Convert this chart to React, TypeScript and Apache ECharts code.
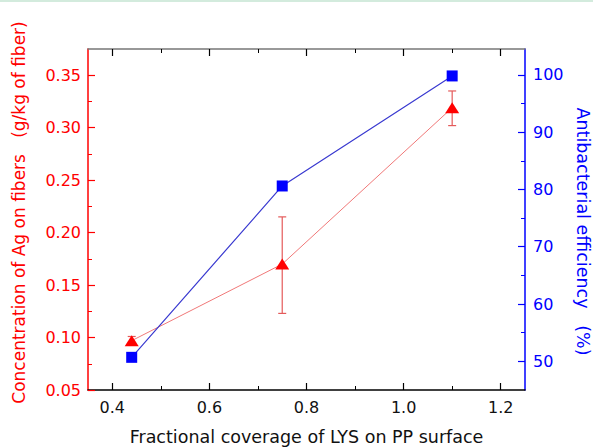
import React, { useEffect, useRef } from "react";
import * as echarts from "echarts";

const coverage = [0.44, 0.75, 1.1];
const agConc = [0.097, 0.17, 0.319];
const agErrLow = [0.093, 0.123, 0.302];
const agErrHigh = [0.101, 0.215, 0.335];
const efficiency = [50.7, 80.6, 99.8];

const xMajor = [0.4, 0.6, 0.8, 1.0, 1.2];
const xMinor = [0.5, 0.7, 0.9, 1.1];
const yLeftMajor = [0.05, 0.1, 0.15, 0.2, 0.25, 0.3, 0.35];
const yLeftMinor = [0.075, 0.125, 0.175, 0.225, 0.275, 0.325];
const yRightMajor = [50, 60, 70, 80, 90, 100];
const yRightMinor = [55, 65, 75, 85, 95];

const FONT = "DejaVu Sans";
const RED = "#ff0000";
const BLUE = "#0000ff";

export default function App() {
  const ref = useRef<HTMLDivElement>(null);
  useEffect(() => {
    if (!ref.current) return;
    const chart = echarts.init(ref.current, null, { renderer: "svg" });
    const xBase = { type: "value", min: 0.35, max: 1.25, splitLine: { show: false } };
    const yLBase = { type: "value", min: 0.05, max: 0.375, splitLine: { show: false } };
    const yRBase = { type: "value", min: 45, max: 104.5, splitLine: { show: false } };
    chart.setOption({
      animation: false,
      textStyle: { fontFamily: FONT },
      grid: { left: 88, right: 68, top: 49, bottom: 57, containLabel: false, outerBoundsMode: "none" },
      graphic: [
        { type: "rect", left: 0, top: 0, shape: { width: 593, height: 2 }, style: { fill: "#d3ebdd" } },
      ],
      xAxis: [
        {
          ...xBase,
          position: "bottom",
          name: "Fractional coverage of LYS on PP surface",
          nameLocation: "middle",
          nameGap: 38,
          nameTextStyle: { color: "#111", fontSize: 17.5, fontFamily: FONT },
          axisLine: { lineStyle: { color: "#000", width: 1.5 } },
          axisTick: { inside: true, length: 7, customValues: xMajor, lineStyle: { color: "#000", width: 1.2 } },
          axisLabel: { customValues: xMajor, color: "#111", fontSize: 16, margin: 9, formatter: (v: number) => v.toFixed(1) },
        },
        {
          ...xBase,
          position: "bottom",
          axisLine: { show: false },
          axisTick: { inside: true, length: 4, customValues: xMinor, lineStyle: { color: "#000", width: 1 } },
          axisLabel: { show: false },
        },
        {
          ...xBase,
          position: "top",
          axisLine: { lineStyle: { color: "#777", width: 1.5 } },
          axisTick: { inside: true, length: 7, customValues: xMajor, lineStyle: { color: "#000", width: 1.2 } },
          axisLabel: { show: false },
        },
        {
          ...xBase,
          position: "top",
          axisLine: { show: false },
          axisTick: { inside: true, length: 4, customValues: xMinor, lineStyle: { color: "#000", width: 1 } },
          axisLabel: { show: false },
        },
      ],
      yAxis: [
        {
          ...yLBase,
          position: "left",
          name: "Concentration of Ag on fibers   (g/kg of fiber)",
          nameLocation: "middle",
          nameGap: 61,
          nameTextStyle: { color: RED, fontSize: 17, fontFamily: FONT, padding: [0, 0, 0, 14] },
          axisLine: { lineStyle: { color: RED, width: 1.5 } },
          axisTick: { inside: true, length: 7, customValues: yLeftMajor, lineStyle: { color: RED, width: 1.2 } },
          axisLabel: { customValues: yLeftMajor, color: RED, fontSize: 16, margin: 7, formatter: (v: number) => v.toFixed(2) },
        },
        {
          ...yRBase,
          position: "right",
          name: "Antibacterial efficiency   (%)",
          nameLocation: "middle",
          nameGap: 49,
          nameRotate: -90,
          nameTextStyle: { color: BLUE, fontSize: 17.5, fontFamily: FONT, padding: [0, 0, 0, 24] },
          axisLine: { lineStyle: { color: BLUE, width: 1.5 } },
          axisTick: { inside: true, length: 7, customValues: yRightMajor, lineStyle: { color: BLUE, width: 1.2 } },
          axisLabel: { customValues: yRightMajor, color: BLUE, fontSize: 16, margin: 8 },
        },
        {
          ...yLBase,
          position: "left",
          axisLine: { show: false },
          axisTick: { inside: true, length: 4, customValues: yLeftMinor, lineStyle: { color: RED, width: 1 } },
          axisLabel: { show: false },
        },
        {
          ...yRBase,
          position: "right",
          axisLine: { show: false },
          axisTick: { inside: true, length: 4, customValues: yRightMinor, lineStyle: { color: BLUE, width: 1 } },
          axisLabel: { show: false },
        },
      ],
      series: [
        {
          type: "custom",
          xAxisIndex: 0,
          yAxisIndex: 0,
          z: 1,
          data: coverage.map((x, i) => [x, agErrLow[i], agErrHigh[i]]),
          renderItem: (params: any, api: any) => {
            const x = api.value(0);
            const lo = api.coord([x, api.value(1)]);
            const hi = api.coord([x, api.value(2)]);
            const w = 4;
            const style = { stroke: "#e45a5a", lineWidth: 1.2 };
            return {
              type: "group",
              children: [
                { type: "line", shape: { x1: hi[0], y1: hi[1], x2: lo[0], y2: lo[1] }, style },
                { type: "line", shape: { x1: hi[0] - w, y1: hi[1], x2: hi[0] + w, y2: hi[1] }, style },
                { type: "line", shape: { x1: lo[0] - w, y1: lo[1], x2: lo[0] + w, y2: lo[1] }, style },
              ],
            };
          },
        },
        {
          type: "line",
          xAxisIndex: 0,
          yAxisIndex: 0,
          z: 2,
          data: coverage.map((x, i) => [x, agConc[i]]),
          symbol: "triangle",
          symbolSize: [14, 11],
          itemStyle: { color: RED },
          lineStyle: { color: "#f07878", width: 1 },
        },
        {
          type: "line",
          xAxisIndex: 0,
          yAxisIndex: 1,
          z: 3,
          data: coverage.map((x, i) => [x, efficiency[i]]),
          symbol: "rect",
          symbolSize: 11,
          itemStyle: { color: BLUE },
          lineStyle: { color: "#3a3ad0", width: 1.2 },
        },
      ],
    });
    return () => chart.dispose();
  }, []);
  return (
    <div
      ref={ref}
      style={{ position: "absolute", left: 0, top: 0, width: 593, height: 447, background: "#fff" }}
    />
  );
}
